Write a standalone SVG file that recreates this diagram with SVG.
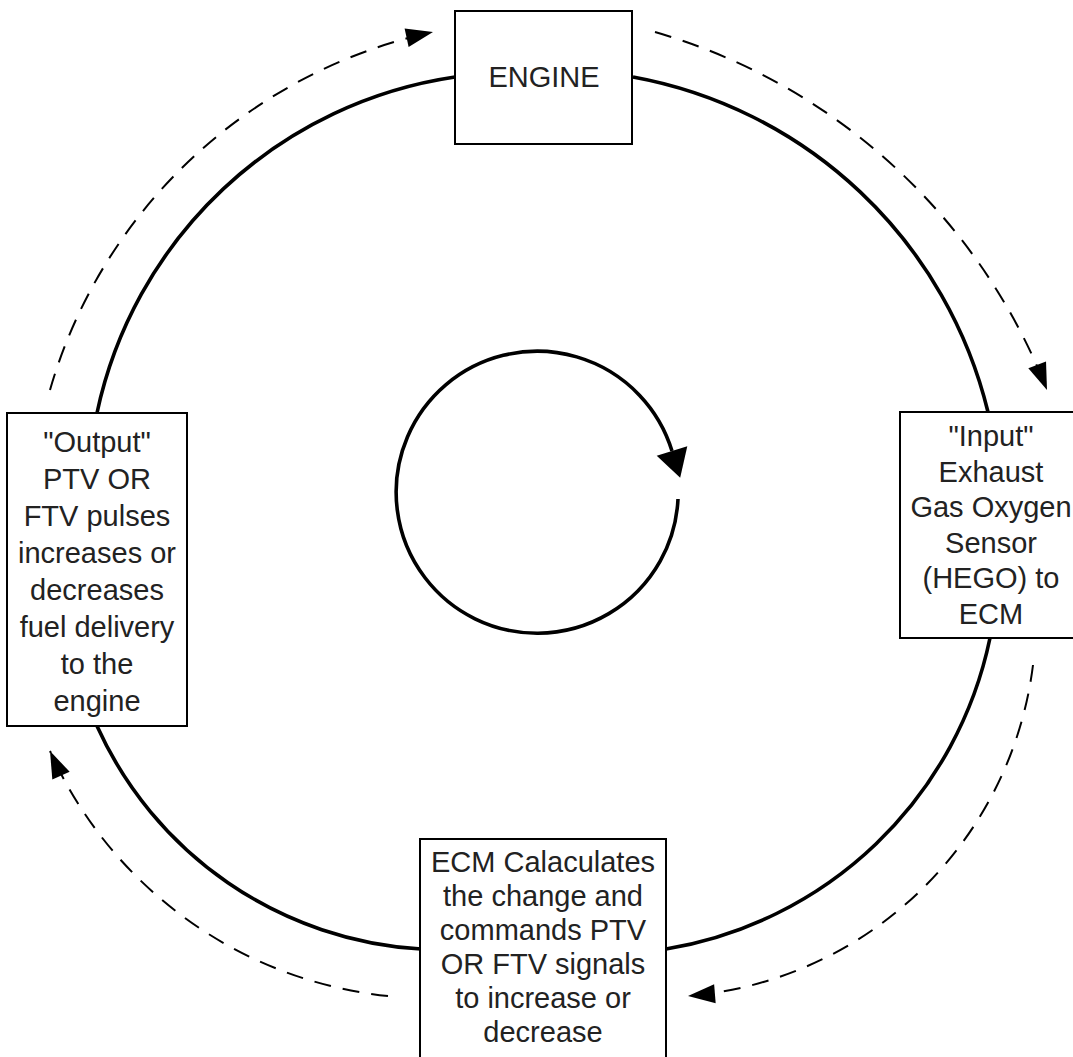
<svg xmlns="http://www.w3.org/2000/svg" width="1073" height="1057" viewBox="0 0 1073 1057">
<style>
.box{fill:#fff;stroke:#000;stroke-width:2}
.t{font-family:"Liberation Sans",Arial,sans-serif;font-size:29px;fill:#222;text-anchor:middle}
.solid{fill:none;stroke:#000;stroke-width:3.6}
.dash{fill:none;stroke:#000;stroke-width:2;stroke-dasharray:17 12}
</style>
<defs>
<marker id="ah" markerUnits="userSpaceOnUse" markerWidth="30" markerHeight="22" refX="27" refY="9.5" orient="auto" overflow="visible">
<path d="M0,0 L27,9.5 L0,19 z" fill="#000"/>
</marker>
<marker id="ahBig" markerUnits="userSpaceOnUse" markerWidth="32" markerHeight="34" refX="0" refY="16" orient="auto" overflow="visible">
<path d="M0,0 L28,16 L0,32 z" fill="#000"/>
</marker>
</defs>
<rect width="1073" height="1057" fill="#fff"/>
<g id="connectors">
<path class="solid" d="M455,77 A430,430 0 0,0 97,413"/>
<path class="solid" d="M633,77 A448,448 0 0,1 988,412"/>
<path class="solid" d="M990,638 A397,397 0 0,1 666,949"/>
<path class="solid" d="M421,949 A380,380 0 0,1 97,726"/>
<path class="dash" d="M50,390 A511,511 0 0,1 433,32" marker-end="url(#ah)"/>
<path class="dash" d="M655,32 A600,600 0 0,1 1047,390" marker-end="url(#ah)"/>
<path class="dash" d="M1033,665 A379,379 0 0,1 688,996" marker-end="url(#ah)"/>
<path class="dash" d="M388,996 A417,417 0 0,1 50,751" marker-end="url(#ah)"/>
<path class="solid" d="M678,499 A141,141 0 1,1 672,451" marker-end="url(#ahBig)"/>
</g>
<g id="engine">
<rect class="box" x="455" y="11" width="177" height="133"/>
<text class="t" x="544" y="87">ENGINE</text>
</g>
<g id="input">
<rect class="box" x="900" y="412" width="190" height="226"/>
<text class="t" x="991" y="446">"Input"</text>
<text class="t" x="991" y="481.5">Exhaust</text>
<text class="t" x="991" y="517">Gas Oxygen</text>
<text class="t" x="991" y="552.5">Sensor</text>
<text class="t" x="991" y="588">(HEGO) to</text>
<text class="t" x="991" y="623.5">ECM</text>
</g>
<g id="ecm">
<rect class="box" x="420" y="839" width="246" height="240"/>
<text class="t" x="543" y="872">ECM Calaculates</text>
<text class="t" x="543" y="906">the change and</text>
<text class="t" x="543" y="940">commands PTV</text>
<text class="t" x="543" y="974">OR FTV signals</text>
<text class="t" x="543" y="1008">to increase or</text>
<text class="t" x="543" y="1042">decrease</text>
</g>
<g id="output">
<rect class="box" x="7" y="413" width="180" height="313"/>
<text class="t" x="97" y="452">"Output"</text>
<text class="t" x="97" y="489">PTV OR</text>
<text class="t" x="97" y="526">FTV pulses</text>
<text class="t" x="97" y="563">increases or</text>
<text class="t" x="97" y="600">decreases</text>
<text class="t" x="97" y="637">fuel delivery</text>
<text class="t" x="97" y="674">to the</text>
<text class="t" x="97" y="711">engine</text>
</g>
</svg>
